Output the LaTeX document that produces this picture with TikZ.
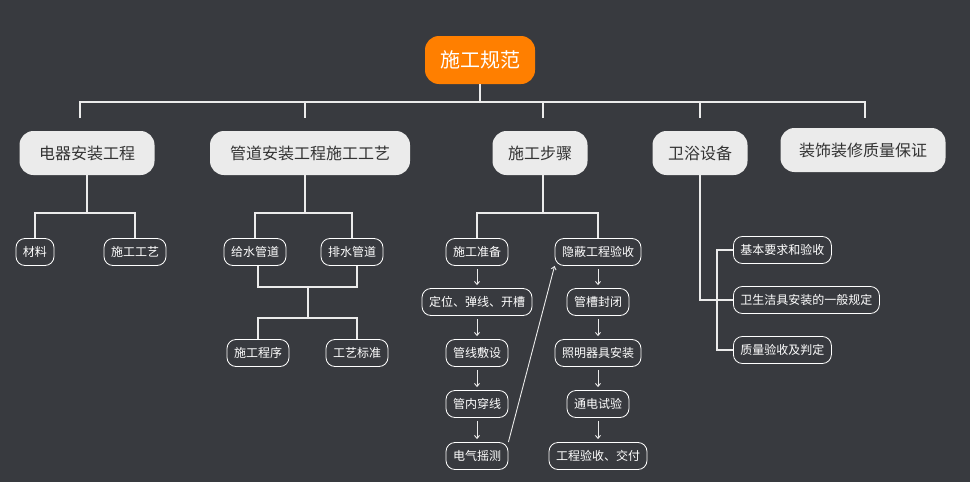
\documentclass[tikz,border=0pt]{standalone}
\usepackage{fontspec}
\setmainfont{Noto Sans CJK SC}
\usetikzlibrary{arrows.meta}
\definecolor{bg}{HTML}{383A3F}
\definecolor{orng}{HTML}{FF7F00}
\definecolor{lgray}{HTML}{EBEBEB}
\tikzset{
	root/.style={fill=orng,text=white,rounded corners=14pt,minimum height=48pt,minimum width=110pt,font=\fontsize{20}{22}\selectfont},
	topic/.style={fill=lgray,text=black!80,rounded corners=14pt,minimum height=44pt,font=\fontsize{16}{18}\selectfont},
	leaf/.style={draw=white,fill=bg,text=white,rounded corners=9pt,minimum height=27pt,inner xsep=7pt,line width=0.8pt,font=\fontsize{12}{14}\selectfont},
	link/.style={draw=lgray,line width=1.6pt},
	flow/.style={draw=lgray,line width=0.9pt,shorten <=3pt,shorten >=3pt,-{Straight Barb[length=3pt,width=5pt]}}
}
\begin{document}
\begin{tikzpicture}[x=1pt,y=-1pt]
	\fill[bg] (0,0) rectangle (970,482);
	\node[root] (gf) at (480,60) {施工规范};
	\node[topic,minimum width=135pt] (dq) at (87,153) {电器安装工程};
	\node[topic,minimum width=200pt] (gd) at (310,153) {管道安装工程施工工艺};
	\node[topic,minimum width=95pt] (bz) at (540,153) {施工步骤};
	\node[topic,minimum width=95pt] (wy) at (700,153) {卫浴设备};
	\node[topic,minimum width=165pt] (zs) at (863,150) {装饰装修质量保证};
	% main bus
	\draw[link] (gf.south) -- (480,102);
	\draw[link] (80,118) -- (80,102) -- (865,102) -- (865,118);
	\foreach \x in {305,543,700} \draw[link] (\x,102) -- (\x,118);
	% electrical
	\node[leaf] (cl) at (35,252) {材料};
	\node[leaf] (gy) at (135,252) {施工工艺};
	\draw[link] (87,175) -- (87,213);
	\draw[link] (cl.north) -- (35,213) -- (135,213) -- (gy.north);
	% pipes
	\node[leaf] (js) at (255,252) {给水管道};
	\node[leaf] (ps) at (352,252) {排水管道};
	\node[leaf] (cx) at (258,353) {施工程序};
	\node[leaf] (bzn) at (357,353) {工艺标准};
	\draw[link] (305,175) -- (305,213);
	\draw[link] (js.north) -- (255,213) -- (352,213) -- (ps.north);
	\draw[link] (258,266) -- (258,287) -- (357,287) -- (357,266);
	\draw[link] (308,287) -- (308,318);
	\draw[link] (cx.north) -- (258,318) -- (357,318) -- (bzn.north);
	% steps
	\node[leaf] (zb) at (477,252) {施工准备};
	\node[leaf] (dw) at (477,302) {定位、弹线、开槽};
	\node[leaf] (fs) at (477,353) {管线敷设};
	\node[leaf] (cxn) at (477,404) {管内穿线};
	\node[leaf] (ys) at (477,456) {电气摇测};
	\node[leaf] (yc) at (598,252) {隐蔽工程验收};
	\node[leaf] (fb) at (598,302) {管槽封闭};
	\node[leaf] (zm) at (598,353) {照明器具安装};
	\node[leaf] (td) at (598,404) {通电试验};
	\node[leaf] (jf) at (598,456) {工程验收、交付};
	\draw[link] (543,175) -- (543,213);
	\draw[link] (zb.north) -- (477,213) -- (598,213) -- (yc.north);
	\draw[flow] (zb) -- (dw);
	\draw[flow] (dw) -- (fs);
	\draw[flow] (fs) -- (cxn);
	\draw[flow] (cxn) -- (ys);
	\draw[flow] (yc) -- (fb);
	\draw[flow] (fb) -- (zm);
	\draw[flow] (zm) -- (td);
	\draw[flow] (td) -- (jf);
	\draw[flow,shorten <=0pt,shorten >=0pt] (ys.north east) -- (yc.south west);
	% sanitary
	\node[leaf,anchor=west] (yq) at (733,250) {基本要求和验收};
	\node[leaf,anchor=west] (jj) at (733,300) {卫生洁具安装的一般规定};
	\node[leaf,anchor=west] (pd) at (733,350) {质量验收及判定};
	\draw[link] (700,175) -- (700,300) -- (jj.west);
	\draw[link] (yq.west) -- (717,250) -- (717,350) -- (pd.west);
\end{tikzpicture}
\end{document}
